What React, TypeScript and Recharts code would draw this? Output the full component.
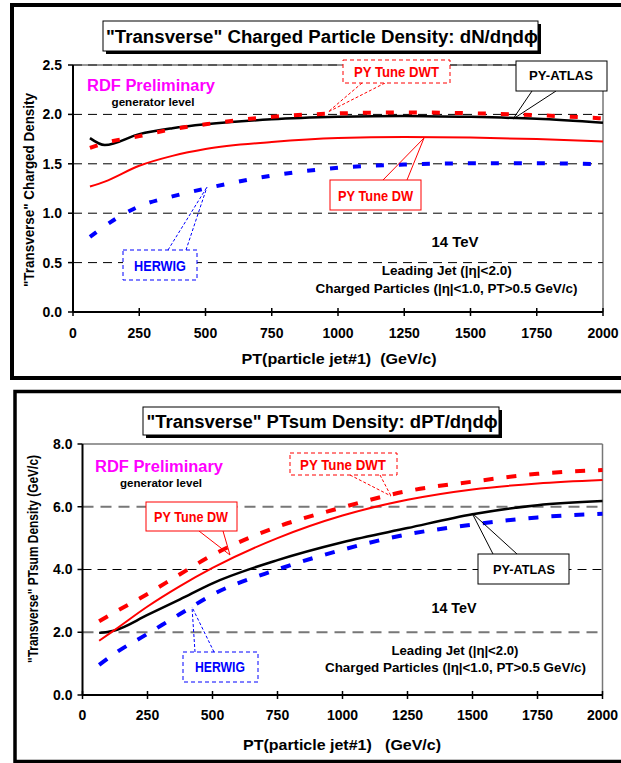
import { LineChart, Line, XAxis, YAxis, CartesianGrid, ReferenceLine } from 'recharts';

const FONT = 'Arial, "Liberation Sans", Helvetica, sans-serif';

// PT of leading particle jet (GeV/c)
const PT = [64, 120, 250, 375, 500, 750, 1000, 1250, 1500, 1750, 2000];
const X_TICKS = [0, 250, 500, 750, 1000, 1250, 1500, 1750, 2000];

// "Transverse" charged particle density
const NCH_ATLAS = [1.76, 1.69, 1.8, 1.86, 1.9, 1.95, 1.975, 1.985, 1.975, 1.955, 1.915];
const NCH_DW = [1.27, 1.32, 1.48, 1.58, 1.65, 1.72, 1.76, 1.77, 1.765, 1.75, 1.725];
const NCH_DWT = [1.66, 1.71, 1.78, 1.85, 1.9, 1.975, 2.01, 2.02, 2.012, 1.992, 1.96];
const NCH_HERWIG = [0.76, 0.87, 1.07, 1.17, 1.25, 1.38, 1.46, 1.493, 1.505, 1.505, 1.495];
const NCH_TICKS = [0, 0.5, 1, 1.5, 2, 2.5];

// "Transverse" PTsum density (GeV/c)
const PTS_ATLAS = [1.98, 2.05, 2.55, 3.05, 3.56, 4.3, 4.87, 5.32, 5.76, 6.05, 6.18];
const PTS_DW = [1.73, 2.05, 2.82, 3.47, 4.05, 5.0, 5.72, 6.22, 6.55, 6.74, 6.85];
const PTS_DWT = [2.35, 2.62, 3.22, 3.85, 4.46, 5.36, 5.98, 6.5, 6.8, 7.05, 7.17];
const PTS_HERWIG = [0.96, 1.3, 1.95, 2.58, 3.2, 4.0, 4.63, 5.12, 5.43, 5.66, 5.78];
const PTS_TICKS = [0, 2, 4, 6, 8];

const nchData = PT.map((pt, i) => ({
  pt,
  atlas: NCH_ATLAS[i],
  dw: NCH_DW[i],
  dwt: NCH_DWT[i],
  herwig: NCH_HERWIG[i],
}));

const ptsData = PT.map((pt, i) => ({
  pt,
  atlas: PTS_ATLAS[i],
  dw: PTS_DW[i],
  dwt: PTS_DWT[i],
  herwig: PTS_HERWIG[i],
}));

const XTick = (props: any) => {
  const { x, payload, axisY, labelY } = props;
  return (
    <g>
      <line x1={x} x2={x} y1={axisY - 4} y2={axisY + 4} stroke="#000" strokeWidth={1.5} />
      <text x={x} y={labelY} textAnchor="middle" fontSize={14} fontWeight="bold" fontFamily={FONT} fill="#000">
        {payload.value}
      </text>
    </g>
  );
};

const Txt = ({ x, y, w, size, fill = '#000', children, rotate }: any) => (
  <text
    x={rotate ? 0 : x}
    y={rotate ? 0 : y}
    transform={rotate ? `translate(${x},${y}) rotate(-90)` : undefined}
    textAnchor="middle"
    fontSize={size}
    fontWeight="bold"
    fontFamily={FONT}
    fill={fill}
    textLength={w}
    lengthAdjust="spacingAndGlyphs"
  >
    {children}
  </text>
);

const Box = ({ x, y, w, h, stroke = '#000', dash, shadow }: any) => (
  <g>
    {shadow && <rect x={x + 3} y={y + 3} width={w} height={h} fill="#000" />}
    <rect x={x} y={y} width={w} height={h} fill="#fff" stroke={stroke} strokeWidth={1} strokeDasharray={dash} />
  </g>
);

const Leader = ({ pts, stroke = '#000', dash }: any) => (
  <g>
    {pts.map((p: number[], i: number) => (
      <line key={i} x1={p[0]} y1={p[1]} x2={p[2]} y2={p[3]} stroke={stroke} strokeWidth={1} strokeDasharray={dash} />
    ))}
  </g>
);

const seriesLines = (dash: string) => [
  <Line key="atlas" dataKey="atlas" type="monotone" stroke="#000" strokeWidth={2.5} dot={false} isAnimationActive={false} />,
  <Line key="dw" dataKey="dw" type="monotone" stroke="#ff0000" strokeWidth={2} dot={false} isAnimationActive={false} />,
  <Line key="herwig" dataKey="herwig" type="monotone" stroke="#0000ff" strokeWidth={4} strokeDasharray={dash} dot={false} isAnimationActive={false} />,
  <Line key="dwt" dataKey="dwt" type="monotone" stroke="#ff0000" strokeWidth={4} strokeDasharray={dash} dot={false} isAnimationActive={false} />,
];

const yAxisProps = {
  type: 'number' as const,
  width: 60,
  interval: 0 as const,
  tickSize: 5,
  tickMargin: 6,
  tickFormatter: (v: number) => v.toFixed(1),
  axisLine: { stroke: '#000', strokeWidth: 2 },
  tickLine: { stroke: '#000', strokeWidth: 1.5 },
  tick: { fill: '#000', fontSize: 14, fontWeight: 'bold', fontFamily: FONT },
};

export default function App() {
  return (
    <div style={{ position: 'absolute', left: 0, top: 0, width: 621, height: 763, background: '#fff', overflow: 'hidden' }}>
      <div style={{ position: 'absolute', left: 0, top: 0 }}>
        <LineChart width={621} height={385} data={nchData} margin={{ top: 65, right: 18, bottom: 43, left: 13 }}>
          <CartesianGrid vertical={false} stroke="#000" strokeWidth={1} strokeDasharray="9 6" />
          <ReferenceLine y={2.5} stroke="#333" strokeWidth={1} />
          <ReferenceLine x={2000} stroke="#333" strokeWidth={1} />
          <XAxis
            dataKey="pt"
            type="number"
            domain={[0, 2000]}
            ticks={X_TICKS}
            interval={0}
            height={30}
            tickLine={false}
            axisLine={{ stroke: '#000', strokeWidth: 2 }}
            tick={(p: any) => <XTick {...p} axisY={312} labelY={338} />}
          />
          <YAxis {...yAxisProps} domain={[0, 2.5]} ticks={NCH_TICKS} />
          {seriesLines('8 15')}
        </LineChart>
      </div>

      <div style={{ position: 'absolute', left: 0, top: 385 }}>
        <LineChart width={621} height={378} data={ptsData} margin={{ top: 59, right: 18.5, bottom: 38, left: 22.5 }}>
          <ReferenceLine y={6} stroke="#777" strokeWidth={2} strokeDasharray="11 7" />
          <ReferenceLine y={4} stroke="#000" strokeWidth={1} strokeDasharray="9 6" />
          <ReferenceLine y={2} stroke="#777" strokeWidth={2} strokeDasharray="11 7" />
          <ReferenceLine y={8} stroke="#777" strokeWidth={1.5} />
          <ReferenceLine x={2000} stroke="#777" strokeWidth={1.5} />
          <XAxis
            dataKey="pt"
            type="number"
            domain={[0, 2000]}
            ticks={X_TICKS}
            interval={0}
            height={30}
            tickLine={false}
            axisLine={{ stroke: '#000', strokeWidth: 2 }}
            tick={(p: any) => <XTick {...p} axisY={310} labelY={335} />}
          />
          <YAxis {...yAxisProps} domain={[0, 8]} ticks={PTS_TICKS} tickMargin={5} />
          {seriesLines('10 13')}
        </LineChart>
      </div>

      <svg width={621} height={763} style={{ position: 'absolute', left: 0, top: 0, pointerEvents: 'none' }}>
        {/* panel frames */}
        <rect x={12} y={5} width={700} height={373} fill="none" stroke="#000" strokeWidth={4} />
        <rect x={15} y={391.5} width={700} height={370} fill="none" stroke="#000" strokeWidth={3.5} />

        {/* top panel */}
        <Box x={103} y={21} w={435} h={30} shadow />
        <Txt x={322} y={43} w={432} size={18}>"Transverse" Charged Particle Density: dN/dηdϕ</Txt>
        <Txt x={151} y={91} w={128} size={16} fill="#ff00ff">RDF Preliminary</Txt>
        <Txt x={153} y={105.5} w={83} size={11}>generator level</Txt>

        <Leader pts={[[362, 83, 328, 112], [385, 83, 328, 112]]} stroke="#ff0000" dash="3 2" />
        <Box x={343} y={60} w={107} h={23} stroke="#ff0000" dash="4 3" />
        <Txt x={396.5} y={76.5} w={85} size={14} fill="#ff0000">PY Tune DWT</Txt>

        <Leader pts={[[532, 91, 513, 119], [556, 91, 513, 119]]} />
        <Box x={516} y={61} w={91} h={30} />
        <Txt x={561} y={80} w={64} size={13}>PY-ATLAS</Txt>

        <Leader pts={[[383, 180, 424, 138], [407, 180, 424, 138]]} stroke="#ff0000" />
        <Box x={330} y={180} w={91} h={30} stroke="#ff0000" />
        <Txt x={375.5} y={201} w={75} size={14} fill="#ff0000">PY Tune DW</Txt>

        <Leader pts={[[168, 250, 207, 187], [186, 250, 207, 187]]} stroke="#0000ff" dash="3 2" />
        <Box x={123} y={250} w={74} h={30} stroke="#0000ff" dash="4 3" />
        <Txt x={160} y={270.5} w={52} size={14} fill="#0000ff">HERWIG</Txt>

        <Txt x={455} y={247} w={47} size={14}>14 TeV</Txt>
        <Txt x={446.7} y={275} w={130} size={13}>Leading Jet (|η|&lt;2.0)</Txt>
        <Txt x={446.5} y={292.5} w={262} size={13}>Charged Particles (|η|&lt;1.0, PT&gt;0.5 GeV/c)</Txt>

        <Txt x={34} y={190} w={194} size={14} rotate>"Transverse" Charged Density</Txt>
        <Txt x={339} y={364} w={195} size={15}>{'PT(particle jet#1)\u00a0\u00a0(GeV/c)'}</Txt>

        {/* bottom panel */}
        <Box x={143} y={407} w={356} h={28} shadow />
        <Txt x={322} y={428} w={351} size={18}>"Transverse" PTsum Density: dPT/dηdϕ</Txt>
        <Txt x={159} y={472} w={128} size={16} fill="#ff00ff">RDF Preliminary</Txt>
        <Txt x={161} y={486.5} w={82} size={11}>generator level</Txt>

        <Leader pts={[[350, 475, 391, 496], [380, 475, 391, 496]]} stroke="#ff0000" dash="3 2" />
        <Box x={290} y={453} w={107} h={22} stroke="#ff0000" dash="4 3" />
        <Txt x={343} y={469.5} w={86} size={14} fill="#ff0000">PY Tune DWT</Txt>

        <Leader pts={[[199, 531, 230, 555], [223, 531, 230, 555]]} stroke="#ff0000" />
        <Box x={146} y={502} w={91} h={29} stroke="#ff0000" />
        <Txt x={191} y={521.5} w={74} size={14} fill="#ff0000">PY Tune DW</Txt>

        <Leader pts={[[493, 554, 472, 513], [517, 554, 472, 513]]} />
        <Box x={478} y={554} w={91} h={30} />
        <Txt x={524} y={574} w={62} size={13}>PY-ATLAS</Txt>

        <Leader pts={[[195, 652, 192, 607], [214, 652, 192, 607]]} stroke="#0000ff" dash="3 2" />
        <Box x={183} y={652} w={75} h={30} stroke="#0000ff" dash="4 3" />
        <Txt x={220} y={672} w={50} size={14} fill="#0000ff">HERWIG</Txt>

        <Txt x={454} y={613} w={45} size={14}>14 TeV</Txt>
        <Txt x={455} y={654.5} w={127} size={13}>Leading Jet (|η|&lt;2.0)</Txt>
        <Txt x={455.5} y={671.5} w={261} size={13}>Charged Particles (|η|&lt;1.0, PT&gt;0.5 GeV/c)</Txt>

        <Txt x={38} y={559} w={208} size={15} rotate>"Transverse" PTsum Density (GeV/c)</Txt>
        <Txt x={342} y={750} w={198} size={15}>{'PT(particle jet#1)\u00a0\u00a0\u00a0(GeV/c)'}</Txt>
      </svg>
    </div>
  );
}
